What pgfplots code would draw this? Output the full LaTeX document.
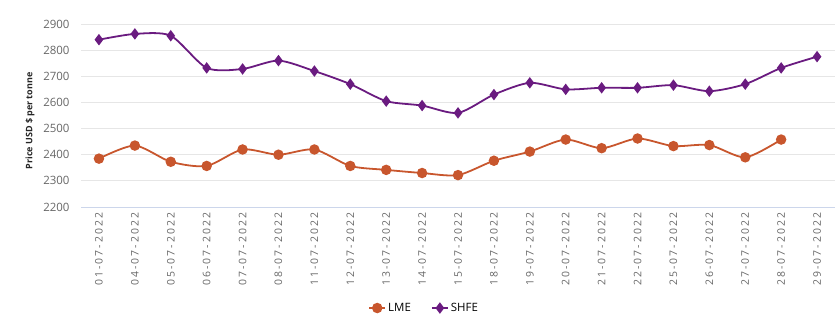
\documentclass[border=0pt]{standalone}
\usepackage{pgfplots}
\pgfplotsset{compat=1.18}
\usepackage{fontspec}
\setmainfont{Open Sans}
\newfontfamily\lsfont[LetterSpace=20]{Open Sans}
\definecolor{lme}{HTML}{C8562D}
\definecolor{shfe}{HTML}{6A1B80}
\definecolor{gridc}{HTML}{E6E6E6}
\definecolor{axc}{HTML}{CCD6EB}
\definecolor{txt}{HTML}{666666}
\begin{document}
\begin{tikzpicture}[x=1bp,y=1bp]
\path[use as bounding box] (0,0) rectangle (835,330);
\begin{axis}[
  at={(81bp,123bp)}, anchor=south west,
  scale only axis, width=754bp, height=183bp,
  xmin=-0.5, xmax=20.5, ymin=2200, ymax=2900,
  ytick={2200,2300,...,2900},
  ymajorgrids, grid style={gridc, line width=0.8pt},
  axis x line*=bottom, axis y line*=left,
  y axis line style={draw=none},
  ytick style={draw=none},
  x axis line style={axc, line width=0.8pt, -},
  xtick={0,...,20},
  xticklabels={01-07-2022,04-07-2022,05-07-2022,06-07-2022,07-07-2022,08-07-2022,11-07-2022,12-07-2022,13-07-2022,14-07-2022,15-07-2022,18-07-2022,19-07-2022,20-07-2022,21-07-2022,22-07-2022,25-07-2022,26-07-2022,27-07-2022,28-07-2022,29-07-2022},
  extra x ticks={-0.5,0.5,...,20.5},
  extra x tick labels={},
  extra x tick style={major tick length=10bp, tick style={axc, line width=0.8pt}, tick align=outside, xmajorgrids=false, ymajorgrids=false},
  x tick style={draw=none},
  xticklabel style={rotate=90, anchor=east, font=\lsfont\fontsize{10.5}{12}\selectfont, text=txt, xshift=-2bp},
  yticklabel style={font=\fontsize{11.5}{13}\selectfont, text=txt, xshift=-8bp},
  ylabel={Price USD \$ per tonne},
  y tick label style={anchor=east},
  every axis y label/.style={at={(axis description cs:0,0.47)}, rotate=90, anchor=center, yshift=51bp,
    font=\bfseries\fontsize{9}{10}\selectfont, text=black!85},
  /pgf/number format/assume math mode=true,
  /pgf/number format/1000 sep={},
  legend style={at={(axis description cs:0.455,-0.552)}, anchor=center, draw=none, fill=none,
    font=\fontsize{11.5}{13}\selectfont, legend columns=2,
    nodes={inner xsep=2bp},
    /tikz/every even column/.append style={column sep=18bp}},
  legend image code/.code={\draw[#1, line width=2pt] (0bp,0bp) -- (16bp,0bp); \draw[#1, mark repeat=1, mark phase=1] plot coordinates {(8bp,0bp)};},
]
\addplot[lme, line width=1.8pt, smooth, tension=0.45, mark=*, mark size=4.3bp, mark options={fill=lme, draw=lme}] coordinates {
(0,2385) (1,2435) (2,2373) (3,2357) (4,2420) (5,2400) (6,2420) (7,2357) (8,2342) (9,2330)
(10,2322) (11,2377) (12,2412) (13,2458) (14,2425) (15,2462) (16,2433) (17,2437) (18,2390) (19,2458)};
\addlegendentry{LME}
\addplot[shfe, line width=1.8pt, smooth, tension=0.45, mark=diamond*, mark size=4.3bp, mark options={fill=shfe, draw=shfe}] coordinates {
(0,2840) (1,2862) (2,2855) (3,2732) (4,2728) (5,2760) (6,2720) (7,2670) (8,2605) (9,2588)
(10,2560) (11,2630) (12,2675) (13,2650) (14,2656) (15,2656) (16,2666) (17,2643) (18,2670) (19,2732) (20,2775)};
\addlegendentry{SHFE}
\end{axis}
\end{tikzpicture}
\end{document}
